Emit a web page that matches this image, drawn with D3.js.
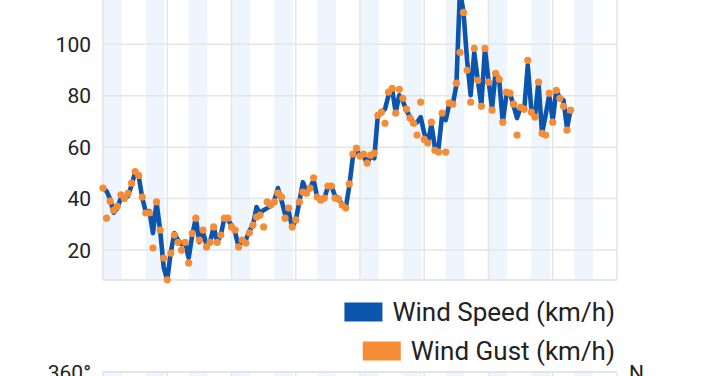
<!DOCTYPE html>
<html>
<head>
<meta charset="utf-8">
<script src="https://cdn.jsdelivr.net/npm/d3@7"></script>
<style>
  html, body { margin: 0; padding: 0; background: #fff; }
  svg { display: block; font-family: Roboto, "Noto Sans", sans-serif; }
</style>
</head>
<body>
<svg id="chart" width="720" height="376"></svg>
<script>
// wind readings every 2 hours (km/h)
var windSpeed = [
  44.1, 42.9, 39.8, 34.5, 36.3, 40.2, 40.6, 41.0, 45.2, 50.3,
  48.7, 40.2, 34.8, 35.1, 26.6, 38.6, 27.8, 13.4, 8.4, 19.2,
  26.6, 23.9, 22.3, 22.7, 16.9, 25.8, 32.4, 23.1, 27.0, 22.0,
  23.1, 29.0, 23.1, 25.8, 32.4, 31.7, 29.7, 27.0, 21.2, 23.9,
  23.9, 27.4, 29.7, 36.7, 34.4, 35.5, 36.3, 37.1, 39.4, 44.1,
  39.4, 34.0, 35.1, 28.9, 31.7, 38.6, 46.4, 42.9, 44.1, 47.2,
  40.6, 39.8, 40.2, 44.5, 44.9, 41.0, 40.2, 37.5, 36.3, 44.9,
  56.1, 58.8, 56.9, 56.5, 53.8, 56.5, 55.7, 72.4, 73.6, 74.8,
  80.2, 82.5, 73.6, 80.2, 77.9, 74.4, 71.7, 69.3, 69.7, 71.7,
  65.4, 61.6, 68.9, 59.6, 59.6, 72.4, 70.5, 76.7, 76.7, 84.1,
  121.0, 112.4, 93.8, 80.2, 96.9, 86.0, 76.3, 98.4, 86.0, 75.1,
  89.1, 86.0, 69.7, 80.2, 81.0, 76.3, 71.3, 75.5, 74.4, 92.0,
  74.4, 71.7, 85.3, 65.4, 72.4, 80.2, 70.5, 82.1, 79.0, 78.3,
  67.4, 74.4
];
var windGust = [
  44.1, 32.4, 39.0, 35.5, 37.0, 41.5, 40.0, 42.0, 46.0, 50.5,
  49.0, 40.6, 34.4, 34.4, 20.8, 38.7, 27.8, 16.9, 8.4, 18.8,
  25.8, 23.0, 20.0, 23.0, 15.0, 26.5, 32.4, 23.9, 27.8, 21.2,
  23.0, 29.0, 23.0, 25.8, 32.4, 32.4, 29.0, 27.8, 21.2, 23.9,
  22.7, 26.7, 29.7, 32.8, 33.6, 29.0, 38.7, 37.5, 38.7, 42.1,
  40.6, 32.4, 36.3, 29.0, 31.7, 38.7, 42.5, 42.1, 44.1, 48.1,
  40.6, 39.4, 40.2, 44.9, 44.9, 40.2, 39.8, 37.5, 36.3, 45.7,
  57.3, 59.6, 56.5, 57.3, 53.8, 56.9, 57.7, 72.4, 73.6, 69.3,
  81.4, 82.9, 73.2, 82.5, 79.0, 74.8, 71.3, 69.3, 64.7, 77.5,
  63.0, 61.6, 69.7, 58.8, 58.1, 73.2, 58.1, 77.1, 76.7, 84.9,
  96.9, 112.4, 89.9, 77.5, 98.4, 86.0, 75.9, 98.4, 85.3, 74.4,
  88.7, 86.4, 69.7, 81.4, 81.0, 76.7, 64.7, 75.5, 74.8, 93.8,
  73.6, 71.7, 85.3, 65.4, 64.7, 81.0, 69.7, 82.1, 79.0, 75.9,
  66.6, 74.4
];
var stepHours = 2;
var totalHours = 288;        // 12 days on the x axis
var gridHours = 36;          // vertical grid every 36 h
var nightHours = 10.5;       // shaded part of each day
var yTicks = [20, 40, 60, 80, 100];
var legendItems = ["Wind Speed (km/h)", "Wind Gust (km/h)"];
var dirLabels = ["360°", "N"];

( function () {

var colSpeed = "#0b55ae", colGust = "#f68c35";
var colGrid = "#e4e5e7", colBand = "#eef5fc";

var svg = d3.select("#chart");
// plot box (top edge sits above the window, like the screenshot)
var pLeft = 103, pRight = 617, pBottom = 280, pTop = -20;

var x = d3.scaleLinear().domain([0, totalHours]).range([pLeft, pRight]);
var y = d3.scaleLinear().domain([8.35, 125]).range([pBottom, pTop]);

var days = d3.range(0, totalHours, 24);
var grids = d3.range(0, totalHours + 1, gridHours);

// night bands
svg.append("g").selectAll("rect").data(days).join("rect")
  .attr("x", d => x(d)).attr("y", pTop)
  .attr("width", x(nightHours) - x(0)).attr("height", pBottom - pTop)
  .attr("fill", colBand);

// horizontal grid + y labels
svg.append("g").selectAll("line").data(yTicks).join("line")
  .attr("x1", pLeft).attr("x2", pRight)
  .attr("y1", d => y(d)).attr("y2", d => y(d))
  .attr("stroke", colGrid).attr("stroke-width", 1.5);

svg.append("g").selectAll("text").data(yTicks).join("text")
  .attr("x", 91).attr("y", d => y(d)).attr("dy", "0.36em")
  .attr("text-anchor", "end").attr("font-size", 21).attr("fill", "#222")
  .text(d => d);

// vertical grid
svg.append("g").selectAll("line").data(grids).join("line")
  .attr("x1", d => x(d)).attr("x2", d => x(d))
  .attr("y1", pTop).attr("y2", pBottom)
  .attr("stroke", colGrid).attr("stroke-width", 1.5);

svg.append("line").attr("x1", pLeft).attr("x2", pRight)
  .attr("y1", pBottom).attr("y2", pBottom)
  .attr("stroke", colGrid).attr("stroke-width", 2);

// speed line
var line = d3.line()
  .x((d, i) => x(i * stepHours))
  .y(d => y(d));

svg.append("path").datum(windSpeed)
  .attr("fill", "none").attr("stroke", colSpeed)
  .attr("stroke-width", 4.6).attr("stroke-linejoin", "round")
  .attr("d", line);

// gust dots
svg.append("g").selectAll("circle").data(windGust).join("circle")
  .attr("cx", (d, i) => x(i * stepHours)).attr("cy", d => y(d))
  .attr("r", 3.6).attr("fill", colGust);

// legend, right aligned
var legend = svg.append("g");
var legCols = [colSpeed, colGust];
legendItems.forEach(function (name, i) {
  var ty = 312 + i * 39;
  var t = legend.append("text")
    .attr("x", 615).attr("y", ty).attr("dy", "0.36em")
    .attr("text-anchor", "end").attr("font-size", 26).attr("fill", "#222")
    .text(name);
  var w = t.node().getComputedTextLength();
  legend.append("rect")
    .attr("x", 615 - w - 48).attr("y", ty - 9.5)
    .attr("width", 38).attr("height", 19)
    .attr("fill", legCols[i]);
});

// top of the next (direction) chart, cut off by the window
var top2 = 372, bottom2 = 520;
svg.append("g").selectAll("rect").data(days).join("rect")
  .attr("x", d => x(d)).attr("y", top2)
  .attr("width", x(nightHours) - x(0)).attr("height", bottom2 - top2)
  .attr("fill", colBand);
svg.append("line").attr("x1", pLeft).attr("x2", pRight)
  .attr("y1", top2).attr("y2", top2)
  .attr("stroke", colGrid).attr("stroke-width", 2);
svg.append("g").selectAll("line").data(grids).join("line")
  .attr("x1", d => x(d)).attr("x2", d => x(d))
  .attr("y1", top2).attr("y2", bottom2)
  .attr("stroke", colGrid).attr("stroke-width", 1.5);

svg.append("text").attr("x", 91).attr("y", top2).attr("dy", "0.36em")
  .attr("text-anchor", "end").attr("font-size", 21).attr("fill", "#222")
  .text(dirLabels[0]);
svg.append("text").attr("x", 629).attr("y", top2).attr("dy", "0.36em")
  .attr("font-size", 21).attr("fill", "#222")
  .text(dirLabels[1]);

} )();
</script>
</body>
</html>
